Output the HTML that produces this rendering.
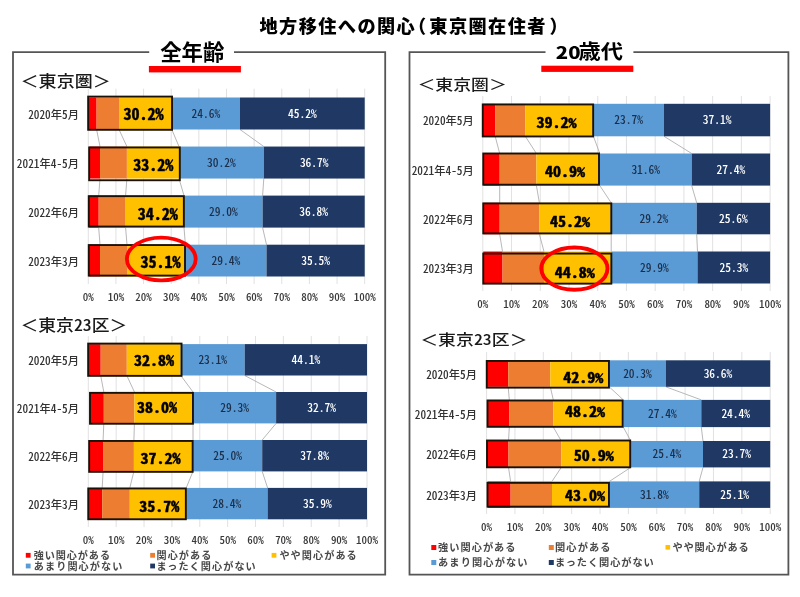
<!DOCTYPE html>
<html lang="ja"><head><meta charset="utf-8"><title>地方移住への関心（東京圏在住者）</title>
<style>
html,body{margin:0;padding:0;background:#fff;}
svg{display:block;}
text{white-space:pre;}
</style></head><body>
<svg width="800" height="597" viewBox="0 0 800 597">
<rect width="800" height="597" fill="#fff"/>
<text x="259.5" y="33.4" style="font-family:&quot;Liberation Sans&quot;,&quot;Noto Sans CJK JP&quot;,sans-serif;font-size:18.2px;letter-spacing:1.4px;font-weight:900;font-feature-settings:&quot;halt&quot;" fill="#000"><tspan>地方移住への関心</tspan><tspan x="417.2">（</tspan><tspan x="429.3">東京圏在住者</tspan><tspan x="549.4">）</tspan></text>
<path d="M149.2 52.1 H13 V574.6 H385.2 V52.1 H234" fill="none" stroke="#555555" stroke-width="1.8"/>
<path d="M545.5 52.1 H409.5 V574.7 H788.4 V52.1 H633.4" fill="none" stroke="#555555" stroke-width="1.8"/>
<text x="192.3" y="60.3" text-anchor="middle" style="font-family:&quot;Liberation Sans&quot;,&quot;Noto Sans CJK JP&quot;,sans-serif;font-weight:bold;font-size:21.4px" fill="#000">全年齢</text>
<text transform="translate(555.8 58.7) scale(1.24 1)" x="0" y="0" style="font-family:&quot;Noto Sans CJK JP&quot;,&quot;Liberation Sans&quot;,sans-serif;font-weight:900;font-size:16.4px" fill="#000">20</text>
<text transform="translate(578.4 59.3) scale(1.06 0.95)" x="0" y="0" style="font-family:&quot;Liberation Sans&quot;,&quot;Noto Sans CJK JP&quot;,sans-serif;font-weight:bold;font-size:21px" fill="#000">歳代</text>
<rect x="148.9" y="66" width="92" height="6.4" fill="#FF0000"/>
<rect x="541.3" y="65.7" width="92" height="6.2" fill="#FF0000"/>
<text transform="translate(20.6 87.4) scale(1.114 1.0)" style="font-family:&quot;Noto Sans CJK JP&quot;,&quot;IPAGothic&quot;,&quot;Liberation Sans&quot;,sans-serif;font-size:16.2px;font-weight:500" fill="#1a1a1a">＜東京圏＞</text>
<text transform="translate(20.5 331.2) scale(1.099 1.0)" style="font-family:&quot;Noto Sans CJK JP&quot;,&quot;IPAGothic&quot;,&quot;Liberation Sans&quot;,sans-serif;font-size:16.2px;font-weight:500" fill="#1a1a1a">＜東京<tspan style="font-feature-settings:&quot;hwid&quot;">23</tspan>区＞</text>
<text transform="translate(417.4 90.4) scale(1.105 0.88)" style="font-family:&quot;Noto Sans CJK JP&quot;,&quot;IPAGothic&quot;,&quot;Liberation Sans&quot;,sans-serif;font-size:16.2px;font-weight:500" fill="#1a1a1a">＜東京圏＞</text>
<text transform="translate(420.2 345.2) scale(1.105 0.94)" style="font-family:&quot;Noto Sans CJK JP&quot;,&quot;IPAGothic&quot;,&quot;Liberation Sans&quot;,sans-serif;font-size:16.2px;font-weight:500" fill="#1a1a1a">＜東京<tspan style="font-feature-settings:&quot;hwid&quot;">23</tspan>区＞</text>
<line x1="88.30" y1="88.7" x2="88.30" y2="284" stroke="#D9D9D9" stroke-width="0.8"/>
<line x1="115.94" y1="88.7" x2="115.94" y2="284" stroke="#D9D9D9" stroke-width="0.8"/>
<line x1="143.58" y1="88.7" x2="143.58" y2="284" stroke="#D9D9D9" stroke-width="0.8"/>
<line x1="171.22" y1="88.7" x2="171.22" y2="284" stroke="#D9D9D9" stroke-width="0.8"/>
<line x1="198.86" y1="88.7" x2="198.86" y2="284" stroke="#D9D9D9" stroke-width="0.8"/>
<line x1="226.50" y1="88.7" x2="226.50" y2="284" stroke="#D9D9D9" stroke-width="0.8"/>
<line x1="254.14" y1="88.7" x2="254.14" y2="284" stroke="#D9D9D9" stroke-width="0.8"/>
<line x1="281.78" y1="88.7" x2="281.78" y2="284" stroke="#D9D9D9" stroke-width="0.8"/>
<line x1="309.42" y1="88.7" x2="309.42" y2="284" stroke="#D9D9D9" stroke-width="0.8"/>
<line x1="337.06" y1="88.7" x2="337.06" y2="284" stroke="#D9D9D9" stroke-width="0.8"/>
<line x1="364.70" y1="88.7" x2="364.70" y2="284" stroke="#D9D9D9" stroke-width="0.8"/>
<line x1="96.60" y1="129.50" x2="100.00" y2="146.55" stroke="#9A9A9A" stroke-width="0.7"/>
<line x1="119.00" y1="129.50" x2="126.90" y2="146.55" stroke="#9A9A9A" stroke-width="0.7"/>
<line x1="171.80" y1="129.50" x2="179.00" y2="146.55" stroke="#9A9A9A" stroke-width="0.7"/>
<line x1="240.00" y1="129.50" x2="263.80" y2="146.55" stroke="#9A9A9A" stroke-width="0.7"/>
<line x1="100.00" y1="178.55" x2="98.70" y2="195.60" stroke="#9A9A9A" stroke-width="0.7"/>
<line x1="126.90" y1="178.55" x2="125.60" y2="195.60" stroke="#9A9A9A" stroke-width="0.7"/>
<line x1="179.00" y1="178.55" x2="184.00" y2="195.60" stroke="#9A9A9A" stroke-width="0.7"/>
<line x1="263.80" y1="178.55" x2="262.60" y2="195.60" stroke="#9A9A9A" stroke-width="0.7"/>
<line x1="98.70" y1="227.60" x2="100.00" y2="244.70" stroke="#9A9A9A" stroke-width="0.7"/>
<line x1="125.60" y1="227.60" x2="127.00" y2="244.70" stroke="#9A9A9A" stroke-width="0.7"/>
<line x1="184.00" y1="227.60" x2="185.40" y2="244.70" stroke="#9A9A9A" stroke-width="0.7"/>
<line x1="262.60" y1="227.60" x2="266.50" y2="244.70" stroke="#9A9A9A" stroke-width="0.7"/>
<rect x="88.30" y="97.50" width="8.30" height="32.00" fill="#FF0000"/>
<rect x="96.60" y="97.50" width="22.40" height="32.00" fill="#ED7D31"/>
<rect x="119.00" y="97.50" width="52.80" height="32.00" fill="#FFC000"/>
<rect x="171.80" y="97.50" width="68.20" height="32.00" fill="#5B9BD5"/>
<rect x="240.00" y="97.50" width="124.70" height="32.00" fill="#1F3864"/>
<rect x="88.15" y="96.60" width="83.90" height="33.20" fill="none" stroke="#1a1208" stroke-width="1.9"/>
<text transform="translate(143.50 120.30) scale(1.000 1)" text-anchor="middle" style="font-family:&quot;Noto Sans CJK JP&quot;,&quot;IPAGothic&quot;,&quot;Liberation Sans&quot;,sans-serif;font-feature-settings:&quot;hwid&quot;;font-size:16.00px;font-weight:bold;stroke:#000;stroke-width:0.45px;stroke-linejoin:round" fill="#000">30.2%</text>
<text x="205.90" y="117.60" text-anchor="middle" style="font-family:&quot;Noto Sans CJK JP&quot;,&quot;IPAGothic&quot;,&quot;Liberation Sans&quot;,sans-serif;font-feature-settings:&quot;hwid&quot;;font-size:11.5px;font-weight:500" fill="#1c2f4a">24.6%</text>
<text x="302.35" y="117.60" text-anchor="middle" style="font-family:&quot;Noto Sans CJK JP&quot;,&quot;IPAGothic&quot;,&quot;Liberation Sans&quot;,sans-serif;font-feature-settings:&quot;hwid&quot;;font-size:11.5px;font-weight:500" fill="#fff">45.2%</text>
<text x="79.00" y="118.60" text-anchor="end" style="font-family:&quot;Noto Sans CJK JP&quot;,&quot;IPAGothic&quot;,&quot;Liberation Sans&quot;,sans-serif;font-feature-settings:&quot;hwid&quot;;font-size:11.3px;font-weight:500" fill="#333">2020年5月</text>
<rect x="89.15" y="146.55" width="10.85" height="32.00" fill="#FF0000"/>
<rect x="100.00" y="146.55" width="26.90" height="32.00" fill="#ED7D31"/>
<rect x="126.90" y="146.55" width="52.10" height="32.00" fill="#FFC000"/>
<rect x="179.00" y="146.55" width="84.80" height="32.00" fill="#5B9BD5"/>
<rect x="263.80" y="146.55" width="100.90" height="32.00" fill="#1F3864"/>
<rect x="89.15" y="147.45" width="90.65" height="32.80" fill="none" stroke="#1a1208" stroke-width="1.9"/>
<text transform="translate(153.30 171.10) scale(1.000 1)" text-anchor="middle" style="font-family:&quot;Noto Sans CJK JP&quot;,&quot;IPAGothic&quot;,&quot;Liberation Sans&quot;,sans-serif;font-feature-settings:&quot;hwid&quot;;font-size:16.00px;font-weight:bold;stroke:#000;stroke-width:0.45px;stroke-linejoin:round" fill="#000">33.2%</text>
<text x="221.40" y="166.65" text-anchor="middle" style="font-family:&quot;Noto Sans CJK JP&quot;,&quot;IPAGothic&quot;,&quot;Liberation Sans&quot;,sans-serif;font-feature-settings:&quot;hwid&quot;;font-size:11.5px;font-weight:500" fill="#1c2f4a">30.2%</text>
<text x="314.25" y="166.65" text-anchor="middle" style="font-family:&quot;Noto Sans CJK JP&quot;,&quot;IPAGothic&quot;,&quot;Liberation Sans&quot;,sans-serif;font-feature-settings:&quot;hwid&quot;;font-size:11.5px;font-weight:500" fill="#fff">36.7%</text>
<text x="79.00" y="167.65" text-anchor="end" style="font-family:&quot;Noto Sans CJK JP&quot;,&quot;IPAGothic&quot;,&quot;Liberation Sans&quot;,sans-serif;font-feature-settings:&quot;hwid&quot;;font-size:11.3px;font-weight:500" fill="#333">2021年4-5月</text>
<rect x="88.75" y="195.60" width="9.95" height="32.00" fill="#FF0000"/>
<rect x="98.70" y="195.60" width="26.90" height="32.00" fill="#ED7D31"/>
<rect x="125.60" y="195.60" width="58.40" height="32.00" fill="#FFC000"/>
<rect x="184.00" y="195.60" width="78.60" height="32.00" fill="#5B9BD5"/>
<rect x="262.60" y="195.60" width="102.10" height="32.00" fill="#1F3864"/>
<rect x="88.75" y="196.15" width="95.10" height="30.40" fill="none" stroke="#1a1208" stroke-width="1.9"/>
<text transform="translate(157.80 219.60) scale(1.000 1)" text-anchor="middle" style="font-family:&quot;Noto Sans CJK JP&quot;,&quot;IPAGothic&quot;,&quot;Liberation Sans&quot;,sans-serif;font-feature-settings:&quot;hwid&quot;;font-size:16.00px;font-weight:bold;stroke:#000;stroke-width:0.45px;stroke-linejoin:round" fill="#000">34.2%</text>
<text x="223.30" y="215.70" text-anchor="middle" style="font-family:&quot;Noto Sans CJK JP&quot;,&quot;IPAGothic&quot;,&quot;Liberation Sans&quot;,sans-serif;font-feature-settings:&quot;hwid&quot;;font-size:11.5px;font-weight:500" fill="#1c2f4a">29.0%</text>
<text x="313.65" y="215.70" text-anchor="middle" style="font-family:&quot;Noto Sans CJK JP&quot;,&quot;IPAGothic&quot;,&quot;Liberation Sans&quot;,sans-serif;font-feature-settings:&quot;hwid&quot;;font-size:11.5px;font-weight:500" fill="#fff">36.8%</text>
<text x="79.00" y="216.70" text-anchor="end" style="font-family:&quot;Noto Sans CJK JP&quot;,&quot;IPAGothic&quot;,&quot;Liberation Sans&quot;,sans-serif;font-feature-settings:&quot;hwid&quot;;font-size:11.3px;font-weight:500" fill="#333">2022年6月</text>
<rect x="88.75" y="244.70" width="11.25" height="31.80" fill="#FF0000"/>
<rect x="100.00" y="244.70" width="27.00" height="31.80" fill="#ED7D31"/>
<rect x="127.00" y="244.70" width="58.40" height="31.80" fill="#FFC000"/>
<rect x="185.40" y="244.70" width="81.10" height="31.80" fill="#5B9BD5"/>
<rect x="266.50" y="244.70" width="98.20" height="31.80" fill="#1F3864"/>
<rect x="88.75" y="245.05" width="96.25" height="30.55" fill="none" stroke="#1a1208" stroke-width="1.9"/>
<text transform="translate(160.60 268.40) scale(1.000 1)" text-anchor="middle" style="font-family:&quot;Noto Sans CJK JP&quot;,&quot;IPAGothic&quot;,&quot;Liberation Sans&quot;,sans-serif;font-feature-settings:&quot;hwid&quot;;font-size:16.00px;font-weight:bold;stroke:#000;stroke-width:0.45px;stroke-linejoin:round" fill="#000">35.1%</text>
<text x="225.95" y="264.70" text-anchor="middle" style="font-family:&quot;Noto Sans CJK JP&quot;,&quot;IPAGothic&quot;,&quot;Liberation Sans&quot;,sans-serif;font-feature-settings:&quot;hwid&quot;;font-size:11.5px;font-weight:500" fill="#1c2f4a">29.4%</text>
<text x="315.60" y="264.70" text-anchor="middle" style="font-family:&quot;Noto Sans CJK JP&quot;,&quot;IPAGothic&quot;,&quot;Liberation Sans&quot;,sans-serif;font-feature-settings:&quot;hwid&quot;;font-size:11.5px;font-weight:500" fill="#fff">35.5%</text>
<text x="79.00" y="265.70" text-anchor="end" style="font-family:&quot;Noto Sans CJK JP&quot;,&quot;IPAGothic&quot;,&quot;Liberation Sans&quot;,sans-serif;font-feature-settings:&quot;hwid&quot;;font-size:11.3px;font-weight:500" fill="#333">2023年3月</text>
<text x="88.30" y="300.50" text-anchor="middle" style="font-family:&quot;Noto Sans CJK JP&quot;,&quot;IPAGothic&quot;,&quot;Liberation Sans&quot;,sans-serif;font-feature-settings:&quot;hwid&quot;;font-size:11px;font-weight:500" fill="#3a3a3a">0%</text>
<text x="115.94" y="300.50" text-anchor="middle" style="font-family:&quot;Noto Sans CJK JP&quot;,&quot;IPAGothic&quot;,&quot;Liberation Sans&quot;,sans-serif;font-feature-settings:&quot;hwid&quot;;font-size:11px;font-weight:500" fill="#3a3a3a">10%</text>
<text x="143.58" y="300.50" text-anchor="middle" style="font-family:&quot;Noto Sans CJK JP&quot;,&quot;IPAGothic&quot;,&quot;Liberation Sans&quot;,sans-serif;font-feature-settings:&quot;hwid&quot;;font-size:11px;font-weight:500" fill="#3a3a3a">20%</text>
<text x="171.22" y="300.50" text-anchor="middle" style="font-family:&quot;Noto Sans CJK JP&quot;,&quot;IPAGothic&quot;,&quot;Liberation Sans&quot;,sans-serif;font-feature-settings:&quot;hwid&quot;;font-size:11px;font-weight:500" fill="#3a3a3a">30%</text>
<text x="198.86" y="300.50" text-anchor="middle" style="font-family:&quot;Noto Sans CJK JP&quot;,&quot;IPAGothic&quot;,&quot;Liberation Sans&quot;,sans-serif;font-feature-settings:&quot;hwid&quot;;font-size:11px;font-weight:500" fill="#3a3a3a">40%</text>
<text x="226.50" y="300.50" text-anchor="middle" style="font-family:&quot;Noto Sans CJK JP&quot;,&quot;IPAGothic&quot;,&quot;Liberation Sans&quot;,sans-serif;font-feature-settings:&quot;hwid&quot;;font-size:11px;font-weight:500" fill="#3a3a3a">50%</text>
<text x="254.14" y="300.50" text-anchor="middle" style="font-family:&quot;Noto Sans CJK JP&quot;,&quot;IPAGothic&quot;,&quot;Liberation Sans&quot;,sans-serif;font-feature-settings:&quot;hwid&quot;;font-size:11px;font-weight:500" fill="#3a3a3a">60%</text>
<text x="281.78" y="300.50" text-anchor="middle" style="font-family:&quot;Noto Sans CJK JP&quot;,&quot;IPAGothic&quot;,&quot;Liberation Sans&quot;,sans-serif;font-feature-settings:&quot;hwid&quot;;font-size:11px;font-weight:500" fill="#3a3a3a">70%</text>
<text x="309.42" y="300.50" text-anchor="middle" style="font-family:&quot;Noto Sans CJK JP&quot;,&quot;IPAGothic&quot;,&quot;Liberation Sans&quot;,sans-serif;font-feature-settings:&quot;hwid&quot;;font-size:11px;font-weight:500" fill="#3a3a3a">80%</text>
<text x="337.06" y="300.50" text-anchor="middle" style="font-family:&quot;Noto Sans CJK JP&quot;,&quot;IPAGothic&quot;,&quot;Liberation Sans&quot;,sans-serif;font-feature-settings:&quot;hwid&quot;;font-size:11px;font-weight:500" fill="#3a3a3a">90%</text>
<text x="364.70" y="300.50" text-anchor="middle" style="font-family:&quot;Noto Sans CJK JP&quot;,&quot;IPAGothic&quot;,&quot;Liberation Sans&quot;,sans-serif;font-feature-settings:&quot;hwid&quot;;font-size:11px;font-weight:500" fill="#3a3a3a">100%</text>
<line x1="88.30" y1="336" x2="88.30" y2="527" stroke="#D9D9D9" stroke-width="0.8"/>
<line x1="116.17" y1="336" x2="116.17" y2="527" stroke="#D9D9D9" stroke-width="0.8"/>
<line x1="144.04" y1="336" x2="144.04" y2="527" stroke="#D9D9D9" stroke-width="0.8"/>
<line x1="171.91" y1="336" x2="171.91" y2="527" stroke="#D9D9D9" stroke-width="0.8"/>
<line x1="199.78" y1="336" x2="199.78" y2="527" stroke="#D9D9D9" stroke-width="0.8"/>
<line x1="227.65" y1="336" x2="227.65" y2="527" stroke="#D9D9D9" stroke-width="0.8"/>
<line x1="255.52" y1="336" x2="255.52" y2="527" stroke="#D9D9D9" stroke-width="0.8"/>
<line x1="283.39" y1="336" x2="283.39" y2="527" stroke="#D9D9D9" stroke-width="0.8"/>
<line x1="311.26" y1="336" x2="311.26" y2="527" stroke="#D9D9D9" stroke-width="0.8"/>
<line x1="339.13" y1="336" x2="339.13" y2="527" stroke="#D9D9D9" stroke-width="0.8"/>
<line x1="367.00" y1="336" x2="367.00" y2="527" stroke="#D9D9D9" stroke-width="0.8"/>
<line x1="100.70" y1="375.50" x2="103.80" y2="392.00" stroke="#9A9A9A" stroke-width="0.7"/>
<line x1="126.80" y1="375.50" x2="134.40" y2="392.00" stroke="#9A9A9A" stroke-width="0.7"/>
<line x1="180.80" y1="375.50" x2="193.00" y2="392.00" stroke="#9A9A9A" stroke-width="0.7"/>
<line x1="244.70" y1="375.50" x2="276.10" y2="392.00" stroke="#9A9A9A" stroke-width="0.7"/>
<line x1="103.80" y1="423.40" x2="103.10" y2="440.00" stroke="#9A9A9A" stroke-width="0.7"/>
<line x1="134.40" y1="423.40" x2="133.90" y2="440.00" stroke="#9A9A9A" stroke-width="0.7"/>
<line x1="193.00" y1="423.40" x2="193.00" y2="440.00" stroke="#9A9A9A" stroke-width="0.7"/>
<line x1="276.10" y1="423.40" x2="262.20" y2="440.00" stroke="#9A9A9A" stroke-width="0.7"/>
<line x1="103.10" y1="471.40" x2="102.20" y2="487.90" stroke="#9A9A9A" stroke-width="0.7"/>
<line x1="133.90" y1="471.40" x2="129.80" y2="487.90" stroke="#9A9A9A" stroke-width="0.7"/>
<line x1="193.00" y1="471.40" x2="186.20" y2="487.90" stroke="#9A9A9A" stroke-width="0.7"/>
<line x1="262.20" y1="471.40" x2="267.60" y2="487.90" stroke="#9A9A9A" stroke-width="0.7"/>
<rect x="88.30" y="344.10" width="12.40" height="31.40" fill="#FF0000"/>
<rect x="100.70" y="344.10" width="26.10" height="31.40" fill="#ED7D31"/>
<rect x="126.80" y="344.10" width="54.00" height="31.40" fill="#FFC000"/>
<rect x="180.80" y="344.10" width="63.90" height="31.40" fill="#5B9BD5"/>
<rect x="244.70" y="344.10" width="122.30" height="31.40" fill="#1F3864"/>
<rect x="88.15" y="343.60" width="93.40" height="32.25" fill="none" stroke="#1a1208" stroke-width="1.9"/>
<text transform="translate(154.00 365.55) scale(1.062 1)" text-anchor="middle" style="font-family:&quot;Noto Sans CJK JP&quot;,&quot;IPAGothic&quot;,&quot;Liberation Sans&quot;,sans-serif;font-feature-settings:&quot;hwid&quot;;font-size:15.07px;font-weight:bold;stroke:#000;stroke-width:0.45px;stroke-linejoin:round" fill="#000">32.8%</text>
<text x="212.75" y="363.90" text-anchor="middle" style="font-family:&quot;Noto Sans CJK JP&quot;,&quot;IPAGothic&quot;,&quot;Liberation Sans&quot;,sans-serif;font-feature-settings:&quot;hwid&quot;;font-size:11.5px;font-weight:500" fill="#1c2f4a">23.1%</text>
<text x="305.85" y="363.90" text-anchor="middle" style="font-family:&quot;Noto Sans CJK JP&quot;,&quot;IPAGothic&quot;,&quot;Liberation Sans&quot;,sans-serif;font-feature-settings:&quot;hwid&quot;;font-size:11.5px;font-weight:500" fill="#fff">44.1%</text>
<text x="79.00" y="364.90" text-anchor="end" style="font-family:&quot;Noto Sans CJK JP&quot;,&quot;IPAGothic&quot;,&quot;Liberation Sans&quot;,sans-serif;font-feature-settings:&quot;hwid&quot;;font-size:11.3px;font-weight:500" fill="#333">2020年5月</text>
<rect x="90.00" y="392.00" width="13.80" height="31.40" fill="#FF0000"/>
<rect x="103.80" y="392.00" width="30.60" height="31.40" fill="#ED7D31"/>
<rect x="134.40" y="392.00" width="58.60" height="31.40" fill="#FFC000"/>
<rect x="193.00" y="392.00" width="83.10" height="31.40" fill="#5B9BD5"/>
<rect x="276.10" y="392.00" width="90.90" height="31.40" fill="#1F3864"/>
<rect x="90.00" y="392.85" width="102.95" height="30.90" fill="none" stroke="#1a1208" stroke-width="1.9"/>
<text transform="translate(157.10 413.35) scale(1.062 1)" text-anchor="middle" style="font-family:&quot;Noto Sans CJK JP&quot;,&quot;IPAGothic&quot;,&quot;Liberation Sans&quot;,sans-serif;font-feature-settings:&quot;hwid&quot;;font-size:15.07px;font-weight:bold;stroke:#000;stroke-width:0.45px;stroke-linejoin:round" fill="#000">38.0%</text>
<text x="234.55" y="411.80" text-anchor="middle" style="font-family:&quot;Noto Sans CJK JP&quot;,&quot;IPAGothic&quot;,&quot;Liberation Sans&quot;,sans-serif;font-feature-settings:&quot;hwid&quot;;font-size:11.5px;font-weight:500" fill="#1c2f4a">29.3%</text>
<text x="321.55" y="411.80" text-anchor="middle" style="font-family:&quot;Noto Sans CJK JP&quot;,&quot;IPAGothic&quot;,&quot;Liberation Sans&quot;,sans-serif;font-feature-settings:&quot;hwid&quot;;font-size:11.5px;font-weight:500" fill="#fff">32.7%</text>
<text x="79.00" y="412.80" text-anchor="end" style="font-family:&quot;Noto Sans CJK JP&quot;,&quot;IPAGothic&quot;,&quot;Liberation Sans&quot;,sans-serif;font-feature-settings:&quot;hwid&quot;;font-size:11.3px;font-weight:500" fill="#333">2021年4-5月</text>
<rect x="89.15" y="440.00" width="13.95" height="31.40" fill="#FF0000"/>
<rect x="103.10" y="440.00" width="30.80" height="31.40" fill="#ED7D31"/>
<rect x="133.90" y="440.00" width="59.10" height="31.40" fill="#FFC000"/>
<rect x="193.00" y="440.00" width="69.20" height="31.40" fill="#5B9BD5"/>
<rect x="262.20" y="440.00" width="104.80" height="31.40" fill="#1F3864"/>
<rect x="89.15" y="440.95" width="103.50" height="30.90" fill="none" stroke="#1a1208" stroke-width="1.9"/>
<text transform="translate(160.40 464.15) scale(1.062 1)" text-anchor="middle" style="font-family:&quot;Noto Sans CJK JP&quot;,&quot;IPAGothic&quot;,&quot;Liberation Sans&quot;,sans-serif;font-feature-settings:&quot;hwid&quot;;font-size:15.07px;font-weight:bold;stroke:#000;stroke-width:0.45px;stroke-linejoin:round" fill="#000">37.2%</text>
<text x="227.60" y="459.80" text-anchor="middle" style="font-family:&quot;Noto Sans CJK JP&quot;,&quot;IPAGothic&quot;,&quot;Liberation Sans&quot;,sans-serif;font-feature-settings:&quot;hwid&quot;;font-size:11.5px;font-weight:500" fill="#1c2f4a">25.0%</text>
<text x="314.60" y="459.80" text-anchor="middle" style="font-family:&quot;Noto Sans CJK JP&quot;,&quot;IPAGothic&quot;,&quot;Liberation Sans&quot;,sans-serif;font-feature-settings:&quot;hwid&quot;;font-size:11.5px;font-weight:500" fill="#fff">37.8%</text>
<text x="79.00" y="460.80" text-anchor="end" style="font-family:&quot;Noto Sans CJK JP&quot;,&quot;IPAGothic&quot;,&quot;Liberation Sans&quot;,sans-serif;font-feature-settings:&quot;hwid&quot;;font-size:11.3px;font-weight:500" fill="#333">2022年6月</text>
<rect x="88.30" y="487.90" width="13.90" height="31.40" fill="#FF0000"/>
<rect x="102.20" y="487.90" width="27.60" height="31.40" fill="#ED7D31"/>
<rect x="129.80" y="487.90" width="56.40" height="31.40" fill="#FFC000"/>
<rect x="186.20" y="487.90" width="81.40" height="31.40" fill="#5B9BD5"/>
<rect x="267.60" y="487.90" width="99.40" height="31.40" fill="#1F3864"/>
<rect x="88.25" y="488.45" width="97.60" height="30.80" fill="none" stroke="#1a1208" stroke-width="1.9"/>
<text transform="translate(159.30 511.55) scale(1.062 1)" text-anchor="middle" style="font-family:&quot;Noto Sans CJK JP&quot;,&quot;IPAGothic&quot;,&quot;Liberation Sans&quot;,sans-serif;font-feature-settings:&quot;hwid&quot;;font-size:15.07px;font-weight:bold;stroke:#000;stroke-width:0.45px;stroke-linejoin:round" fill="#000">35.7%</text>
<text x="226.90" y="507.70" text-anchor="middle" style="font-family:&quot;Noto Sans CJK JP&quot;,&quot;IPAGothic&quot;,&quot;Liberation Sans&quot;,sans-serif;font-feature-settings:&quot;hwid&quot;;font-size:11.5px;font-weight:500" fill="#1c2f4a">28.4%</text>
<text x="317.30" y="507.70" text-anchor="middle" style="font-family:&quot;Noto Sans CJK JP&quot;,&quot;IPAGothic&quot;,&quot;Liberation Sans&quot;,sans-serif;font-feature-settings:&quot;hwid&quot;;font-size:11.5px;font-weight:500" fill="#fff">35.9%</text>
<text x="79.00" y="508.70" text-anchor="end" style="font-family:&quot;Noto Sans CJK JP&quot;,&quot;IPAGothic&quot;,&quot;Liberation Sans&quot;,sans-serif;font-feature-settings:&quot;hwid&quot;;font-size:11.3px;font-weight:500" fill="#333">2023年3月</text>
<text x="88.30" y="544.10" text-anchor="middle" style="font-family:&quot;Noto Sans CJK JP&quot;,&quot;IPAGothic&quot;,&quot;Liberation Sans&quot;,sans-serif;font-feature-settings:&quot;hwid&quot;;font-size:11px;font-weight:500" fill="#3a3a3a">0%</text>
<text x="116.17" y="544.10" text-anchor="middle" style="font-family:&quot;Noto Sans CJK JP&quot;,&quot;IPAGothic&quot;,&quot;Liberation Sans&quot;,sans-serif;font-feature-settings:&quot;hwid&quot;;font-size:11px;font-weight:500" fill="#3a3a3a">10%</text>
<text x="144.04" y="544.10" text-anchor="middle" style="font-family:&quot;Noto Sans CJK JP&quot;,&quot;IPAGothic&quot;,&quot;Liberation Sans&quot;,sans-serif;font-feature-settings:&quot;hwid&quot;;font-size:11px;font-weight:500" fill="#3a3a3a">20%</text>
<text x="171.91" y="544.10" text-anchor="middle" style="font-family:&quot;Noto Sans CJK JP&quot;,&quot;IPAGothic&quot;,&quot;Liberation Sans&quot;,sans-serif;font-feature-settings:&quot;hwid&quot;;font-size:11px;font-weight:500" fill="#3a3a3a">30%</text>
<text x="199.78" y="544.10" text-anchor="middle" style="font-family:&quot;Noto Sans CJK JP&quot;,&quot;IPAGothic&quot;,&quot;Liberation Sans&quot;,sans-serif;font-feature-settings:&quot;hwid&quot;;font-size:11px;font-weight:500" fill="#3a3a3a">40%</text>
<text x="227.65" y="544.10" text-anchor="middle" style="font-family:&quot;Noto Sans CJK JP&quot;,&quot;IPAGothic&quot;,&quot;Liberation Sans&quot;,sans-serif;font-feature-settings:&quot;hwid&quot;;font-size:11px;font-weight:500" fill="#3a3a3a">50%</text>
<text x="255.52" y="544.10" text-anchor="middle" style="font-family:&quot;Noto Sans CJK JP&quot;,&quot;IPAGothic&quot;,&quot;Liberation Sans&quot;,sans-serif;font-feature-settings:&quot;hwid&quot;;font-size:11px;font-weight:500" fill="#3a3a3a">60%</text>
<text x="283.39" y="544.10" text-anchor="middle" style="font-family:&quot;Noto Sans CJK JP&quot;,&quot;IPAGothic&quot;,&quot;Liberation Sans&quot;,sans-serif;font-feature-settings:&quot;hwid&quot;;font-size:11px;font-weight:500" fill="#3a3a3a">70%</text>
<text x="311.26" y="544.10" text-anchor="middle" style="font-family:&quot;Noto Sans CJK JP&quot;,&quot;IPAGothic&quot;,&quot;Liberation Sans&quot;,sans-serif;font-feature-settings:&quot;hwid&quot;;font-size:11px;font-weight:500" fill="#3a3a3a">80%</text>
<text x="339.13" y="544.10" text-anchor="middle" style="font-family:&quot;Noto Sans CJK JP&quot;,&quot;IPAGothic&quot;,&quot;Liberation Sans&quot;,sans-serif;font-feature-settings:&quot;hwid&quot;;font-size:11px;font-weight:500" fill="#3a3a3a">90%</text>
<text x="367.00" y="544.10" text-anchor="middle" style="font-family:&quot;Noto Sans CJK JP&quot;,&quot;IPAGothic&quot;,&quot;Liberation Sans&quot;,sans-serif;font-feature-settings:&quot;hwid&quot;;font-size:11px;font-weight:500" fill="#3a3a3a">100%</text>
<line x1="482.80" y1="96" x2="482.80" y2="291" stroke="#D9D9D9" stroke-width="0.8"/>
<line x1="511.53" y1="96" x2="511.53" y2="291" stroke="#D9D9D9" stroke-width="0.8"/>
<line x1="540.26" y1="96" x2="540.26" y2="291" stroke="#D9D9D9" stroke-width="0.8"/>
<line x1="568.99" y1="96" x2="568.99" y2="291" stroke="#D9D9D9" stroke-width="0.8"/>
<line x1="597.72" y1="96" x2="597.72" y2="291" stroke="#D9D9D9" stroke-width="0.8"/>
<line x1="626.45" y1="96" x2="626.45" y2="291" stroke="#D9D9D9" stroke-width="0.8"/>
<line x1="655.18" y1="96" x2="655.18" y2="291" stroke="#D9D9D9" stroke-width="0.8"/>
<line x1="683.91" y1="96" x2="683.91" y2="291" stroke="#D9D9D9" stroke-width="0.8"/>
<line x1="712.64" y1="96" x2="712.64" y2="291" stroke="#D9D9D9" stroke-width="0.8"/>
<line x1="741.37" y1="96" x2="741.37" y2="291" stroke="#D9D9D9" stroke-width="0.8"/>
<line x1="770.10" y1="96" x2="770.10" y2="291" stroke="#D9D9D9" stroke-width="0.8"/>
<line x1="495.20" y1="136.30" x2="499.70" y2="153.50" stroke="#9A9A9A" stroke-width="0.7"/>
<line x1="525.30" y1="136.30" x2="536.40" y2="153.50" stroke="#9A9A9A" stroke-width="0.7"/>
<line x1="593.40" y1="136.30" x2="599.80" y2="153.50" stroke="#9A9A9A" stroke-width="0.7"/>
<line x1="664.00" y1="136.30" x2="691.70" y2="153.50" stroke="#9A9A9A" stroke-width="0.7"/>
<line x1="499.70" y1="185.60" x2="499.70" y2="202.80" stroke="#9A9A9A" stroke-width="0.7"/>
<line x1="536.40" y1="185.60" x2="539.40" y2="202.80" stroke="#9A9A9A" stroke-width="0.7"/>
<line x1="599.80" y1="185.60" x2="611.20" y2="202.80" stroke="#9A9A9A" stroke-width="0.7"/>
<line x1="691.70" y1="185.60" x2="696.70" y2="202.80" stroke="#9A9A9A" stroke-width="0.7"/>
<line x1="499.70" y1="234.30" x2="502.50" y2="251.50" stroke="#9A9A9A" stroke-width="0.7"/>
<line x1="539.40" y1="234.30" x2="544.00" y2="251.50" stroke="#9A9A9A" stroke-width="0.7"/>
<line x1="611.20" y1="234.30" x2="611.20" y2="251.50" stroke="#9A9A9A" stroke-width="0.7"/>
<line x1="696.70" y1="234.30" x2="697.50" y2="251.50" stroke="#9A9A9A" stroke-width="0.7"/>
<rect x="482.80" y="103.80" width="12.40" height="32.50" fill="#FF0000"/>
<rect x="495.20" y="103.80" width="30.10" height="32.50" fill="#ED7D31"/>
<rect x="525.30" y="103.80" width="68.10" height="32.50" fill="#FFC000"/>
<rect x="593.40" y="103.80" width="70.60" height="32.50" fill="#5B9BD5"/>
<rect x="664.00" y="103.80" width="106.10" height="32.50" fill="#1F3864"/>
<rect x="482.75" y="104.45" width="110.40" height="32.00" fill="none" stroke="#1a1208" stroke-width="1.9"/>
<text transform="translate(556.40 127.65) scale(1.143 1)" text-anchor="middle" style="font-family:&quot;Noto Sans CJK JP&quot;,&quot;IPAGothic&quot;,&quot;Liberation Sans&quot;,sans-serif;font-feature-settings:&quot;hwid&quot;;font-size:14.00px;font-weight:bold;stroke:#000;stroke-width:0.45px;stroke-linejoin:round" fill="#000">39.2%</text>
<text x="628.70" y="124.15" text-anchor="middle" style="font-family:&quot;Noto Sans CJK JP&quot;,&quot;IPAGothic&quot;,&quot;Liberation Sans&quot;,sans-serif;font-feature-settings:&quot;hwid&quot;;font-size:11.5px;font-weight:500" fill="#1c2f4a">23.7%</text>
<text x="717.05" y="124.15" text-anchor="middle" style="font-family:&quot;Noto Sans CJK JP&quot;,&quot;IPAGothic&quot;,&quot;Liberation Sans&quot;,sans-serif;font-feature-settings:&quot;hwid&quot;;font-size:11.5px;font-weight:500" fill="#fff">37.1%</text>
<text x="473.80" y="125.15" text-anchor="end" style="font-family:&quot;Noto Sans CJK JP&quot;,&quot;IPAGothic&quot;,&quot;Liberation Sans&quot;,sans-serif;font-feature-settings:&quot;hwid&quot;;font-size:11.3px;font-weight:500" fill="#333">2020年5月</text>
<rect x="483.25" y="153.50" width="16.45" height="32.10" fill="#FF0000"/>
<rect x="499.70" y="153.50" width="36.70" height="32.10" fill="#ED7D31"/>
<rect x="536.40" y="153.50" width="63.40" height="32.10" fill="#FFC000"/>
<rect x="599.80" y="153.50" width="91.90" height="32.10" fill="#5B9BD5"/>
<rect x="691.70" y="153.50" width="78.40" height="32.10" fill="#1F3864"/>
<rect x="483.25" y="153.50" width="115.75" height="31.20" fill="none" stroke="#1a1208" stroke-width="1.9"/>
<text transform="translate(565.00 176.65) scale(1.143 1)" text-anchor="middle" style="font-family:&quot;Noto Sans CJK JP&quot;,&quot;IPAGothic&quot;,&quot;Liberation Sans&quot;,sans-serif;font-feature-settings:&quot;hwid&quot;;font-size:14.00px;font-weight:bold;stroke:#000;stroke-width:0.45px;stroke-linejoin:round" fill="#000">40.9%</text>
<text x="645.75" y="173.65" text-anchor="middle" style="font-family:&quot;Noto Sans CJK JP&quot;,&quot;IPAGothic&quot;,&quot;Liberation Sans&quot;,sans-serif;font-feature-settings:&quot;hwid&quot;;font-size:11.5px;font-weight:500" fill="#1c2f4a">31.6%</text>
<text x="730.90" y="173.65" text-anchor="middle" style="font-family:&quot;Noto Sans CJK JP&quot;,&quot;IPAGothic&quot;,&quot;Liberation Sans&quot;,sans-serif;font-feature-settings:&quot;hwid&quot;;font-size:11.5px;font-weight:500" fill="#fff">27.4%</text>
<text x="473.80" y="174.65" text-anchor="end" style="font-family:&quot;Noto Sans CJK JP&quot;,&quot;IPAGothic&quot;,&quot;Liberation Sans&quot;,sans-serif;font-feature-settings:&quot;hwid&quot;;font-size:11.3px;font-weight:500" fill="#333">2021年4-5月</text>
<rect x="483.25" y="202.80" width="16.45" height="31.50" fill="#FF0000"/>
<rect x="499.70" y="202.80" width="39.70" height="31.50" fill="#ED7D31"/>
<rect x="539.40" y="202.80" width="71.80" height="31.50" fill="#FFC000"/>
<rect x="611.20" y="202.80" width="85.50" height="31.50" fill="#5B9BD5"/>
<rect x="696.70" y="202.80" width="73.40" height="31.50" fill="#1F3864"/>
<rect x="483.25" y="203.40" width="128.05" height="30.00" fill="none" stroke="#1a1208" stroke-width="1.9"/>
<text transform="translate(570.00 226.95) scale(1.143 1)" text-anchor="middle" style="font-family:&quot;Noto Sans CJK JP&quot;,&quot;IPAGothic&quot;,&quot;Liberation Sans&quot;,sans-serif;font-feature-settings:&quot;hwid&quot;;font-size:14.00px;font-weight:bold;stroke:#000;stroke-width:0.45px;stroke-linejoin:round" fill="#000">45.2%</text>
<text x="653.95" y="222.65" text-anchor="middle" style="font-family:&quot;Noto Sans CJK JP&quot;,&quot;IPAGothic&quot;,&quot;Liberation Sans&quot;,sans-serif;font-feature-settings:&quot;hwid&quot;;font-size:11.5px;font-weight:500" fill="#1c2f4a">29.2%</text>
<text x="733.40" y="222.65" text-anchor="middle" style="font-family:&quot;Noto Sans CJK JP&quot;,&quot;IPAGothic&quot;,&quot;Liberation Sans&quot;,sans-serif;font-feature-settings:&quot;hwid&quot;;font-size:11.5px;font-weight:500" fill="#fff">25.6%</text>
<text x="473.80" y="223.65" text-anchor="end" style="font-family:&quot;Noto Sans CJK JP&quot;,&quot;IPAGothic&quot;,&quot;Liberation Sans&quot;,sans-serif;font-feature-settings:&quot;hwid&quot;;font-size:11.3px;font-weight:500" fill="#333">2022年6月</text>
<rect x="483.25" y="251.50" width="19.25" height="32.00" fill="#FF0000"/>
<rect x="502.50" y="251.50" width="41.50" height="32.00" fill="#ED7D31"/>
<rect x="544.00" y="251.50" width="67.20" height="32.00" fill="#FFC000"/>
<rect x="611.20" y="251.50" width="86.30" height="32.00" fill="#5B9BD5"/>
<rect x="697.50" y="251.50" width="72.60" height="32.00" fill="#1F3864"/>
<rect x="483.25" y="253.55" width="128.10" height="30.10" fill="none" stroke="#1a1208" stroke-width="1.9"/>
<text transform="translate(574.80 277.75) scale(1.143 1)" text-anchor="middle" style="font-family:&quot;Noto Sans CJK JP&quot;,&quot;IPAGothic&quot;,&quot;Liberation Sans&quot;,sans-serif;font-feature-settings:&quot;hwid&quot;;font-size:14.00px;font-weight:bold;stroke:#000;stroke-width:0.45px;stroke-linejoin:round" fill="#000">44.8%</text>
<text x="654.35" y="271.60" text-anchor="middle" style="font-family:&quot;Noto Sans CJK JP&quot;,&quot;IPAGothic&quot;,&quot;Liberation Sans&quot;,sans-serif;font-feature-settings:&quot;hwid&quot;;font-size:11.5px;font-weight:500" fill="#1c2f4a">29.9%</text>
<text x="733.80" y="271.60" text-anchor="middle" style="font-family:&quot;Noto Sans CJK JP&quot;,&quot;IPAGothic&quot;,&quot;Liberation Sans&quot;,sans-serif;font-feature-settings:&quot;hwid&quot;;font-size:11.5px;font-weight:500" fill="#fff">25.3%</text>
<text x="473.80" y="272.60" text-anchor="end" style="font-family:&quot;Noto Sans CJK JP&quot;,&quot;IPAGothic&quot;,&quot;Liberation Sans&quot;,sans-serif;font-feature-settings:&quot;hwid&quot;;font-size:11.3px;font-weight:500" fill="#333">2023年3月</text>
<text x="482.80" y="308.20" text-anchor="middle" style="font-family:&quot;Noto Sans CJK JP&quot;,&quot;IPAGothic&quot;,&quot;Liberation Sans&quot;,sans-serif;font-feature-settings:&quot;hwid&quot;;font-size:11px;font-weight:500" fill="#3a3a3a">0%</text>
<text x="511.53" y="308.20" text-anchor="middle" style="font-family:&quot;Noto Sans CJK JP&quot;,&quot;IPAGothic&quot;,&quot;Liberation Sans&quot;,sans-serif;font-feature-settings:&quot;hwid&quot;;font-size:11px;font-weight:500" fill="#3a3a3a">10%</text>
<text x="540.26" y="308.20" text-anchor="middle" style="font-family:&quot;Noto Sans CJK JP&quot;,&quot;IPAGothic&quot;,&quot;Liberation Sans&quot;,sans-serif;font-feature-settings:&quot;hwid&quot;;font-size:11px;font-weight:500" fill="#3a3a3a">20%</text>
<text x="568.99" y="308.20" text-anchor="middle" style="font-family:&quot;Noto Sans CJK JP&quot;,&quot;IPAGothic&quot;,&quot;Liberation Sans&quot;,sans-serif;font-feature-settings:&quot;hwid&quot;;font-size:11px;font-weight:500" fill="#3a3a3a">30%</text>
<text x="597.72" y="308.20" text-anchor="middle" style="font-family:&quot;Noto Sans CJK JP&quot;,&quot;IPAGothic&quot;,&quot;Liberation Sans&quot;,sans-serif;font-feature-settings:&quot;hwid&quot;;font-size:11px;font-weight:500" fill="#3a3a3a">40%</text>
<text x="626.45" y="308.20" text-anchor="middle" style="font-family:&quot;Noto Sans CJK JP&quot;,&quot;IPAGothic&quot;,&quot;Liberation Sans&quot;,sans-serif;font-feature-settings:&quot;hwid&quot;;font-size:11px;font-weight:500" fill="#3a3a3a">50%</text>
<text x="655.18" y="308.20" text-anchor="middle" style="font-family:&quot;Noto Sans CJK JP&quot;,&quot;IPAGothic&quot;,&quot;Liberation Sans&quot;,sans-serif;font-feature-settings:&quot;hwid&quot;;font-size:11px;font-weight:500" fill="#3a3a3a">60%</text>
<text x="683.91" y="308.20" text-anchor="middle" style="font-family:&quot;Noto Sans CJK JP&quot;,&quot;IPAGothic&quot;,&quot;Liberation Sans&quot;,sans-serif;font-feature-settings:&quot;hwid&quot;;font-size:11px;font-weight:500" fill="#3a3a3a">70%</text>
<text x="712.64" y="308.20" text-anchor="middle" style="font-family:&quot;Noto Sans CJK JP&quot;,&quot;IPAGothic&quot;,&quot;Liberation Sans&quot;,sans-serif;font-feature-settings:&quot;hwid&quot;;font-size:11px;font-weight:500" fill="#3a3a3a">80%</text>
<text x="741.37" y="308.20" text-anchor="middle" style="font-family:&quot;Noto Sans CJK JP&quot;,&quot;IPAGothic&quot;,&quot;Liberation Sans&quot;,sans-serif;font-feature-settings:&quot;hwid&quot;;font-size:11px;font-weight:500" fill="#3a3a3a">90%</text>
<text x="770.10" y="308.20" text-anchor="middle" style="font-family:&quot;Noto Sans CJK JP&quot;,&quot;IPAGothic&quot;,&quot;Liberation Sans&quot;,sans-serif;font-feature-settings:&quot;hwid&quot;;font-size:11px;font-weight:500" fill="#3a3a3a">100%</text>
<line x1="486.60" y1="352" x2="486.60" y2="514" stroke="#D9D9D9" stroke-width="0.8"/>
<line x1="514.96" y1="352" x2="514.96" y2="514" stroke="#D9D9D9" stroke-width="0.8"/>
<line x1="543.32" y1="352" x2="543.32" y2="514" stroke="#D9D9D9" stroke-width="0.8"/>
<line x1="571.68" y1="352" x2="571.68" y2="514" stroke="#D9D9D9" stroke-width="0.8"/>
<line x1="600.04" y1="352" x2="600.04" y2="514" stroke="#D9D9D9" stroke-width="0.8"/>
<line x1="628.40" y1="352" x2="628.40" y2="514" stroke="#D9D9D9" stroke-width="0.8"/>
<line x1="656.76" y1="352" x2="656.76" y2="514" stroke="#D9D9D9" stroke-width="0.8"/>
<line x1="685.12" y1="352" x2="685.12" y2="514" stroke="#D9D9D9" stroke-width="0.8"/>
<line x1="713.48" y1="352" x2="713.48" y2="514" stroke="#D9D9D9" stroke-width="0.8"/>
<line x1="741.84" y1="352" x2="741.84" y2="514" stroke="#D9D9D9" stroke-width="0.8"/>
<line x1="770.20" y1="352" x2="770.20" y2="514" stroke="#D9D9D9" stroke-width="0.8"/>
<line x1="508.20" y1="386.80" x2="509.30" y2="399.90" stroke="#9A9A9A" stroke-width="0.7"/>
<line x1="550.30" y1="386.80" x2="553.30" y2="399.90" stroke="#9A9A9A" stroke-width="0.7"/>
<line x1="609.20" y1="386.80" x2="623.30" y2="399.90" stroke="#9A9A9A" stroke-width="0.7"/>
<line x1="665.80" y1="386.80" x2="701.30" y2="399.90" stroke="#9A9A9A" stroke-width="0.7"/>
<line x1="509.30" y1="427.10" x2="508.50" y2="441.00" stroke="#9A9A9A" stroke-width="0.7"/>
<line x1="553.30" y1="427.10" x2="561.30" y2="441.00" stroke="#9A9A9A" stroke-width="0.7"/>
<line x1="623.30" y1="427.10" x2="630.80" y2="441.00" stroke="#9A9A9A" stroke-width="0.7"/>
<line x1="701.30" y1="427.10" x2="703.00" y2="441.00" stroke="#9A9A9A" stroke-width="0.7"/>
<line x1="508.50" y1="467.40" x2="510.60" y2="481.40" stroke="#9A9A9A" stroke-width="0.7"/>
<line x1="561.30" y1="467.40" x2="552.00" y2="481.40" stroke="#9A9A9A" stroke-width="0.7"/>
<line x1="630.80" y1="467.40" x2="609.40" y2="481.40" stroke="#9A9A9A" stroke-width="0.7"/>
<line x1="703.00" y1="467.40" x2="699.20" y2="481.40" stroke="#9A9A9A" stroke-width="0.7"/>
<rect x="486.75" y="360.30" width="21.45" height="26.50" fill="#FF0000"/>
<rect x="508.20" y="360.30" width="42.10" height="26.50" fill="#ED7D31"/>
<rect x="550.30" y="360.30" width="58.90" height="26.50" fill="#FFC000"/>
<rect x="609.20" y="360.30" width="56.60" height="26.50" fill="#5B9BD5"/>
<rect x="665.80" y="360.30" width="104.40" height="26.50" fill="#1F3864"/>
<rect x="486.75" y="360.95" width="122.20" height="26.70" fill="none" stroke="#1a1208" stroke-width="1.9"/>
<text transform="translate(583.30 382.85) scale(1.143 1)" text-anchor="middle" style="font-family:&quot;Noto Sans CJK JP&quot;,&quot;IPAGothic&quot;,&quot;Liberation Sans&quot;,sans-serif;font-feature-settings:&quot;hwid&quot;;font-size:14.00px;font-weight:bold;stroke:#000;stroke-width:0.45px;stroke-linejoin:round" fill="#000">42.9%</text>
<text x="637.50" y="377.65" text-anchor="middle" style="font-family:&quot;Noto Sans CJK JP&quot;,&quot;IPAGothic&quot;,&quot;Liberation Sans&quot;,sans-serif;font-feature-settings:&quot;hwid&quot;;font-size:11.5px;font-weight:500" fill="#1c2f4a">20.3%</text>
<text x="718.00" y="377.65" text-anchor="middle" style="font-family:&quot;Noto Sans CJK JP&quot;,&quot;IPAGothic&quot;,&quot;Liberation Sans&quot;,sans-serif;font-feature-settings:&quot;hwid&quot;;font-size:11.5px;font-weight:500" fill="#fff">36.6%</text>
<text x="477.00" y="378.65" text-anchor="end" style="font-family:&quot;Noto Sans CJK JP&quot;,&quot;IPAGothic&quot;,&quot;Liberation Sans&quot;,sans-serif;font-feature-settings:&quot;hwid&quot;;font-size:11.3px;font-weight:500" fill="#333">2020年5月</text>
<rect x="487.50" y="399.90" width="21.80" height="27.20" fill="#FF0000"/>
<rect x="509.30" y="399.90" width="44.00" height="27.20" fill="#ED7D31"/>
<rect x="553.30" y="399.90" width="70.00" height="27.20" fill="#FFC000"/>
<rect x="623.30" y="399.90" width="78.00" height="27.20" fill="#5B9BD5"/>
<rect x="701.30" y="399.90" width="68.90" height="27.20" fill="#1F3864"/>
<rect x="487.50" y="400.50" width="135.15" height="26.30" fill="none" stroke="#1a1208" stroke-width="1.9"/>
<text transform="translate(585.00 416.55) scale(1.143 1)" text-anchor="middle" style="font-family:&quot;Noto Sans CJK JP&quot;,&quot;IPAGothic&quot;,&quot;Liberation Sans&quot;,sans-serif;font-feature-settings:&quot;hwid&quot;;font-size:14.00px;font-weight:bold;stroke:#000;stroke-width:0.45px;stroke-linejoin:round" fill="#000">48.2%</text>
<text x="662.30" y="417.60" text-anchor="middle" style="font-family:&quot;Noto Sans CJK JP&quot;,&quot;IPAGothic&quot;,&quot;Liberation Sans&quot;,sans-serif;font-feature-settings:&quot;hwid&quot;;font-size:11.5px;font-weight:500" fill="#1c2f4a">27.4%</text>
<text x="735.75" y="417.60" text-anchor="middle" style="font-family:&quot;Noto Sans CJK JP&quot;,&quot;IPAGothic&quot;,&quot;Liberation Sans&quot;,sans-serif;font-feature-settings:&quot;hwid&quot;;font-size:11.5px;font-weight:500" fill="#fff">24.4%</text>
<text x="477.00" y="418.60" text-anchor="end" style="font-family:&quot;Noto Sans CJK JP&quot;,&quot;IPAGothic&quot;,&quot;Liberation Sans&quot;,sans-serif;font-feature-settings:&quot;hwid&quot;;font-size:11.3px;font-weight:500" fill="#333">2021年4-5月</text>
<rect x="487.00" y="441.00" width="21.50" height="26.40" fill="#FF0000"/>
<rect x="508.50" y="441.00" width="52.80" height="26.40" fill="#ED7D31"/>
<rect x="561.30" y="441.00" width="69.50" height="26.40" fill="#FFC000"/>
<rect x="630.80" y="441.00" width="72.20" height="26.40" fill="#5B9BD5"/>
<rect x="703.00" y="441.00" width="67.20" height="26.40" fill="#1F3864"/>
<rect x="487.00" y="440.50" width="143.20" height="26.80" fill="none" stroke="#1a1208" stroke-width="1.9"/>
<text transform="translate(593.80 461.25) scale(1.143 1)" text-anchor="middle" style="font-family:&quot;Noto Sans CJK JP&quot;,&quot;IPAGothic&quot;,&quot;Liberation Sans&quot;,sans-serif;font-feature-settings:&quot;hwid&quot;;font-size:14.00px;font-weight:bold;stroke:#000;stroke-width:0.45px;stroke-linejoin:round" fill="#000">50.9%</text>
<text x="666.90" y="458.30" text-anchor="middle" style="font-family:&quot;Noto Sans CJK JP&quot;,&quot;IPAGothic&quot;,&quot;Liberation Sans&quot;,sans-serif;font-feature-settings:&quot;hwid&quot;;font-size:11.5px;font-weight:500" fill="#1c2f4a">25.4%</text>
<text x="736.60" y="458.30" text-anchor="middle" style="font-family:&quot;Noto Sans CJK JP&quot;,&quot;IPAGothic&quot;,&quot;Liberation Sans&quot;,sans-serif;font-feature-settings:&quot;hwid&quot;;font-size:11.5px;font-weight:500" fill="#fff">23.7%</text>
<text x="477.00" y="459.30" text-anchor="end" style="font-family:&quot;Noto Sans CJK JP&quot;,&quot;IPAGothic&quot;,&quot;Liberation Sans&quot;,sans-serif;font-feature-settings:&quot;hwid&quot;;font-size:11.3px;font-weight:500" fill="#333">2022年6月</text>
<rect x="487.50" y="481.40" width="23.10" height="26.50" fill="#FF0000"/>
<rect x="510.60" y="481.40" width="41.40" height="26.50" fill="#ED7D31"/>
<rect x="552.00" y="481.40" width="57.40" height="26.50" fill="#FFC000"/>
<rect x="609.40" y="481.40" width="89.80" height="26.50" fill="#5B9BD5"/>
<rect x="699.20" y="481.40" width="71.00" height="26.50" fill="#1F3864"/>
<rect x="487.50" y="482.85" width="121.45" height="23.80" fill="none" stroke="#1a1208" stroke-width="1.9"/>
<text transform="translate(585.00 501.15) scale(1.143 1)" text-anchor="middle" style="font-family:&quot;Noto Sans CJK JP&quot;,&quot;IPAGothic&quot;,&quot;Liberation Sans&quot;,sans-serif;font-feature-settings:&quot;hwid&quot;;font-size:14.00px;font-weight:bold;stroke:#000;stroke-width:0.45px;stroke-linejoin:round" fill="#000">43.0%</text>
<text x="654.30" y="498.75" text-anchor="middle" style="font-family:&quot;Noto Sans CJK JP&quot;,&quot;IPAGothic&quot;,&quot;Liberation Sans&quot;,sans-serif;font-feature-settings:&quot;hwid&quot;;font-size:11.5px;font-weight:500" fill="#1c2f4a">31.8%</text>
<text x="734.70" y="498.75" text-anchor="middle" style="font-family:&quot;Noto Sans CJK JP&quot;,&quot;IPAGothic&quot;,&quot;Liberation Sans&quot;,sans-serif;font-feature-settings:&quot;hwid&quot;;font-size:11.5px;font-weight:500" fill="#fff">25.1%</text>
<text x="477.00" y="499.75" text-anchor="end" style="font-family:&quot;Noto Sans CJK JP&quot;,&quot;IPAGothic&quot;,&quot;Liberation Sans&quot;,sans-serif;font-feature-settings:&quot;hwid&quot;;font-size:11.3px;font-weight:500" fill="#333">2023年3月</text>
<text x="486.60" y="530.50" text-anchor="middle" style="font-family:&quot;Noto Sans CJK JP&quot;,&quot;IPAGothic&quot;,&quot;Liberation Sans&quot;,sans-serif;font-feature-settings:&quot;hwid&quot;;font-size:11px;font-weight:500" fill="#3a3a3a">0%</text>
<text x="514.96" y="530.50" text-anchor="middle" style="font-family:&quot;Noto Sans CJK JP&quot;,&quot;IPAGothic&quot;,&quot;Liberation Sans&quot;,sans-serif;font-feature-settings:&quot;hwid&quot;;font-size:11px;font-weight:500" fill="#3a3a3a">10%</text>
<text x="543.32" y="530.50" text-anchor="middle" style="font-family:&quot;Noto Sans CJK JP&quot;,&quot;IPAGothic&quot;,&quot;Liberation Sans&quot;,sans-serif;font-feature-settings:&quot;hwid&quot;;font-size:11px;font-weight:500" fill="#3a3a3a">20%</text>
<text x="571.68" y="530.50" text-anchor="middle" style="font-family:&quot;Noto Sans CJK JP&quot;,&quot;IPAGothic&quot;,&quot;Liberation Sans&quot;,sans-serif;font-feature-settings:&quot;hwid&quot;;font-size:11px;font-weight:500" fill="#3a3a3a">30%</text>
<text x="600.04" y="530.50" text-anchor="middle" style="font-family:&quot;Noto Sans CJK JP&quot;,&quot;IPAGothic&quot;,&quot;Liberation Sans&quot;,sans-serif;font-feature-settings:&quot;hwid&quot;;font-size:11px;font-weight:500" fill="#3a3a3a">40%</text>
<text x="628.40" y="530.50" text-anchor="middle" style="font-family:&quot;Noto Sans CJK JP&quot;,&quot;IPAGothic&quot;,&quot;Liberation Sans&quot;,sans-serif;font-feature-settings:&quot;hwid&quot;;font-size:11px;font-weight:500" fill="#3a3a3a">50%</text>
<text x="656.76" y="530.50" text-anchor="middle" style="font-family:&quot;Noto Sans CJK JP&quot;,&quot;IPAGothic&quot;,&quot;Liberation Sans&quot;,sans-serif;font-feature-settings:&quot;hwid&quot;;font-size:11px;font-weight:500" fill="#3a3a3a">60%</text>
<text x="685.12" y="530.50" text-anchor="middle" style="font-family:&quot;Noto Sans CJK JP&quot;,&quot;IPAGothic&quot;,&quot;Liberation Sans&quot;,sans-serif;font-feature-settings:&quot;hwid&quot;;font-size:11px;font-weight:500" fill="#3a3a3a">70%</text>
<text x="713.48" y="530.50" text-anchor="middle" style="font-family:&quot;Noto Sans CJK JP&quot;,&quot;IPAGothic&quot;,&quot;Liberation Sans&quot;,sans-serif;font-feature-settings:&quot;hwid&quot;;font-size:11px;font-weight:500" fill="#3a3a3a">80%</text>
<text x="741.84" y="530.50" text-anchor="middle" style="font-family:&quot;Noto Sans CJK JP&quot;,&quot;IPAGothic&quot;,&quot;Liberation Sans&quot;,sans-serif;font-feature-settings:&quot;hwid&quot;;font-size:11px;font-weight:500" fill="#3a3a3a">90%</text>
<text x="770.20" y="530.50" text-anchor="middle" style="font-family:&quot;Noto Sans CJK JP&quot;,&quot;IPAGothic&quot;,&quot;Liberation Sans&quot;,sans-serif;font-feature-settings:&quot;hwid&quot;;font-size:11px;font-weight:500" fill="#3a3a3a">100%</text>
<ellipse cx="161.3" cy="259" rx="34.4" ry="21.4" fill="none" stroke="#FF0000" stroke-width="3.8"/>
<ellipse cx="574.4" cy="268.6" rx="33.1" ry="21.1" fill="none" stroke="#FF0000" stroke-width="3.9"/>
<rect x="25.8" y="552.9" width="4.8" height="4.8" fill="#FF0000"/>
<text x="33.7" y="558.7" textLength="76.3" lengthAdjust="spacing" style="font-family:&quot;Liberation Sans&quot;,&quot;Noto Sans CJK JP&quot;,sans-serif;font-size:10.1px;font-weight:700" fill="#484848">強い関心がある</text>
<rect x="150.2" y="552.9" width="4.8" height="4.8" fill="#ED7D31"/>
<text x="156.4" y="558.7" textLength="55" lengthAdjust="spacing" style="font-family:&quot;Liberation Sans&quot;,&quot;Noto Sans CJK JP&quot;,sans-serif;font-size:10.1px;font-weight:700" fill="#484848">関心がある</text>
<rect x="271.6" y="552.9" width="4.8" height="4.8" fill="#FFC000"/>
<text x="279.4" y="558.7" textLength="77.3" lengthAdjust="spacing" style="font-family:&quot;Liberation Sans&quot;,&quot;Noto Sans CJK JP&quot;,sans-serif;font-size:10.1px;font-weight:700" fill="#484848">やや関心がある</text>
<rect x="25.8" y="563.6" width="4.8" height="4.8" fill="#5B9BD5"/>
<text x="33.7" y="569.7" textLength="88.7" lengthAdjust="spacing" style="font-family:&quot;Liberation Sans&quot;,&quot;Noto Sans CJK JP&quot;,sans-serif;font-size:10.1px;font-weight:700" fill="#484848">あまり関心がない</text>
<rect x="150.2" y="563.6" width="4.8" height="4.8" fill="#1F3864"/>
<text x="156.4" y="569.7" textLength="99.3" lengthAdjust="spacing" style="font-family:&quot;Liberation Sans&quot;,&quot;Noto Sans CJK JP&quot;,sans-serif;font-size:10.1px;font-weight:700" fill="#484848">まったく関心がない</text>
<rect x="431.3" y="545" width="5" height="5" fill="#FF0000"/>
<text x="438" y="551.3" textLength="77.5" lengthAdjust="spacing" style="font-family:&quot;Liberation Sans&quot;,&quot;Noto Sans CJK JP&quot;,sans-serif;font-size:10.2px;font-weight:700" fill="#484848">強い関心がある</text>
<rect x="548.8" y="545" width="5" height="5" fill="#ED7D31"/>
<text x="555" y="551.3" textLength="55.5" lengthAdjust="spacing" style="font-family:&quot;Liberation Sans&quot;,&quot;Noto Sans CJK JP&quot;,sans-serif;font-size:10.2px;font-weight:700" fill="#484848">関心がある</text>
<rect x="665.5" y="545" width="4.6" height="4.6" fill="#FFC000"/>
<text x="672.5" y="551.3" textLength="76.3" lengthAdjust="spacing" style="font-family:&quot;Liberation Sans&quot;,&quot;Noto Sans CJK JP&quot;,sans-serif;font-size:10.2px;font-weight:700" fill="#484848">やや関心がある</text>
<rect x="431.3" y="560" width="5" height="5" fill="#5B9BD5"/>
<text x="438" y="566.3" textLength="89.5" lengthAdjust="spacing" style="font-family:&quot;Liberation Sans&quot;,&quot;Noto Sans CJK JP&quot;,sans-serif;font-size:10.2px;font-weight:700" fill="#484848">あまり関心がない</text>
<rect x="548.8" y="560" width="5" height="5" fill="#1F3864"/>
<text x="555" y="566.3" textLength="98.8" lengthAdjust="spacing" style="font-family:&quot;Liberation Sans&quot;,&quot;Noto Sans CJK JP&quot;,sans-serif;font-size:10.2px;font-weight:700" fill="#484848">まったく関心がない</text>
</svg></body></html>
